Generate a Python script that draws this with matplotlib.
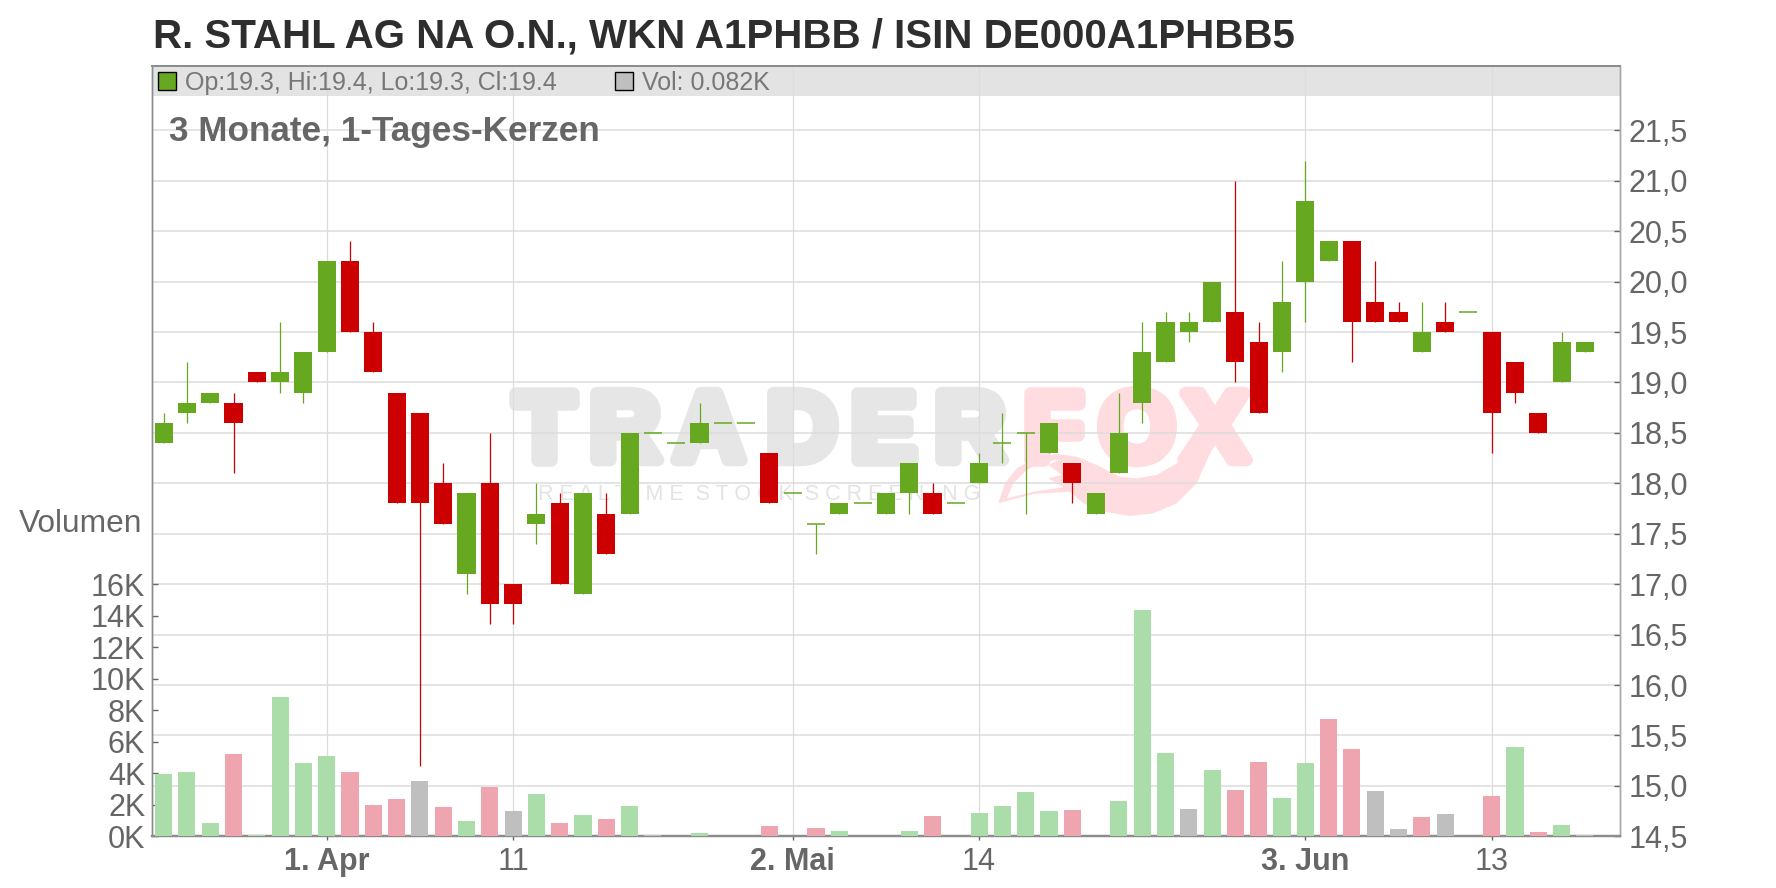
import matplotlib
matplotlib.use("Agg")
import matplotlib.pyplot as plt
import matplotlib.patheffects as pe
from matplotlib.patches import Rectangle, PathPatch
from matplotlib.path import Path

W, H = 1776, 888
FONT = "Liberation Sans"
plt.rcParams["font.family"] = [FONT, "DejaVu Sans"]

opens = [18.4,18.7,18.8,18.8,19.1,19.0,18.9,19.3,20.2,19.5,18.9,18.7,18.0,17.1,18.0,17.0,17.6,17.8,16.9,17.7,17.7,
         18.5,18.4,18.4,18.6,18.6,18.3,17.9,17.6,17.7,17.8,17.7,17.9,17.9,17.8,18.0,18.4,18.5,18.3,18.2,17.7,18.1,18.8,
         19.2,19.5,19.6,19.7,19.4,19.3,20.0,20.2,20.4,19.8,19.7,19.3,19.6,19.7,19.5,19.2,18.7,19.0,19.3]
closes = [18.6,18.8,18.9,18.6,19.0,19.1,19.3,20.2,19.5,19.1,17.8,17.8,17.6,17.9,16.8,16.8,17.7,17.0,17.9,17.3,18.5,
          18.5,18.4,18.6,18.6,18.6,17.8,17.9,17.6,17.8,17.8,17.9,18.2,17.7,17.8,18.2,18.4,18.5,18.6,18.0,17.9,18.5,19.3,
          19.6,19.6,20.0,19.2,18.7,19.8,20.8,20.4,19.6,19.6,19.6,19.5,19.5,19.7,18.7,18.9,18.5,19.4,19.4]
highs = [18.7,19.2,18.9,18.9,19.1,19.6,19.3,20.2,20.4,19.6,18.9,18.7,18.2,17.9,18.5,17.0,18.0,17.9,17.9,17.9,18.5,
         18.5,18.4,18.8,18.6,18.6,18.3,17.9,17.6,17.8,17.8,17.9,18.2,18.0,17.8,18.3,18.7,18.5,18.6,18.2,17.9,18.9,19.6,
         19.7,19.7,20.0,21.0,19.6,20.2,21.2,20.4,20.4,20.2,19.8,19.8,19.8,19.7,19.5,19.2,18.7,19.5,19.4]
lows = [18.4,18.6,18.8,18.1,19.0,18.9,18.8,19.3,19.5,19.1,17.8,15.2,17.6,16.9,16.6,16.6,17.4,17.0,16.9,17.3,17.7,
        18.5,18.4,18.4,18.6,18.6,17.8,17.9,17.3,17.7,17.8,17.7,17.7,17.7,17.8,18.0,18.2,17.7,18.3,17.8,17.7,18.1,18.6,
        19.2,19.4,19.6,19.0,18.7,19.1,19.6,20.2,19.2,19.6,19.6,19.3,19.5,19.7,18.3,18.8,18.5,19.0,19.3]
volumes_k = [3.96,4.08,0.85,5.23,0.08,8.85,4.66,5.10,4.08,1.99,2.37,3.51,1.86,0.97,3.13,1.61,2.69,0.85,1.35,1.10,1.93,
             0.08,0,0.21,0,0,0.66,0,0.53,0.34,0,0,0.34,1.29,0,1.48,1.93,2.81,1.61,1.67,0,2.24,14.37,
             5.29,1.74,4.21,2.94,4.72,2.43,4.66,7.45,5.54,2.88,0.47,1.23,1.42,0,2.56,5.67,0.28,0.72,0.08]
volume_kinds = list("gggrggggrrrxrgrxgrgrg" "xggggrgrgggg" "rgggggrgggg" "xgrrgg" "rrxxrxgrgrgx")
price_ticks = [14.5,15.0,15.5,16.0,16.5,17.0,17.5,18.0,18.5,19.0,19.5,20.0,20.5,21.0,21.5]
price_labels = ["14,5","15,0","15,5","16,0","16,5","17,0","17,5","18,0","18,5","19,0","19,5","20,0","20,5","21,0","21,5"]
volume_ticks = [0,2,4,6,8,10,12,14,16]
volume_labels = ["0K","2K","4K","6K","8K","10K","12K","14K","16K"]
date_positions = [7,15,27,35,49,57]
date_labels = ["1. Apr","11","2. Mai","14","3. Jun","13"]
date_bold = [True,False,True,False,True,False]

GREEN, RED = "#66A820", "#CC0000"
VOL = {"g": "#ABDDAA", "r": "#EFA5AF", "x": "#BFBFBF"}
TXT = "#666666"
GRID = "#DCDCDC"
EDGE = "#8C8C8C"
PINK = "#FFDCE0"
WM_GRAY = "#E6E6E6"

def fx(x): return x / W
def fy(y): return 1 - y / H

L, R, T, B = 152.3, 1620.2, 65.7, 836.3
STEP, X0 = 23.3, 163.6
PY = 100.86   # px per price unit
VY = 15.75    # px per 1K

fig = plt.figure(figsize=(W / 100, H / 100), dpi=100, facecolor="white")
ax = fig.add_axes([fx(L), fy(B), (R - L) / W, (B - T) / H])
ax2 = ax.twinx()
ax.set_xlim((L - X0) / STEP, (R - X0) / STEP)
ax.set_ylim(14.5, 14.5 + (B - T) / PY)
ax2.set_ylim(0, (B - T) / VY)
ax2.patch.set_visible(False)

# header band
ax.axhspan(14.5 + (B - 96) / PY, 14.5 + (B - T) / PY, color="#E3E3E3", lw=0, zorder=0.2)

# grid
for v in price_ticks:
    ax.axhline(v, color=GRID, lw=1.1, zorder=1)
for v in date_positions:
    ax.axvline(v, color=GRID, lw=0.9, zorder=1)

# watermark
tf = fig.transFigure
for ch, cx, col in zip("TRADERFOX", [544, 625, 709, 802, 883, 970, 1053, 1137, 1215], [WM_GRAY] * 6 + [PINK] * 3):
    ax.text(fx(cx), fy(460), ch, transform=tf, ha="center", va="baseline", fontsize=70, fontweight="bold",
            color=col, zorder=0.5, family=FONT,
            path_effects=[pe.withStroke(linewidth=9, foreground=col)])
ax.text(fx(759), fy(494), "R E A L T I M E  S T O C K  S C R E E N I N G", transform=tf, ha="center", va="center",
        fontsize=15.5, color="#E3E3E3", zorder=0.5, family=FONT)
outer = [(55,370),(75,310),(110,265),(170,232),(230,222),(290,230),(350,255),(420,290),(470,295),(530,285),(590,250),
         (640,200),(690,130),(740,60),(810,18),(765,60),(725,140),(690,220),(650,310),(590,370),(520,400),(450,408),
         (370,395),(310,370),(270,335),(160,342)]
hole = [(80,355),(100,310),(140,270),(190,245),(235,240),(205,255),(245,285),(205,295),(250,322),(160,335)]
def to_fig(p): return (fx(980 + p[0] / 3), fy(380 + p[1] / 3))
verts = [to_fig(p) for p in outer] + [to_fig(outer[0])] + [to_fig(p) for p in hole[::-1]] + [to_fig(hole[-1])]
codes = [Path.MOVETO] + [Path.LINETO] * (len(outer) - 1) + [Path.CLOSEPOLY] + \
        [Path.MOVETO] + [Path.LINETO] * (len(hole) - 1) + [Path.CLOSEPOLY]
ax.add_patch(PathPatch(Path(verts, codes), transform=tf, facecolor=PINK, edgecolor="none", zorder=0.5))

# candles
for i, (o, c, h, l) in enumerate(zip(opens, closes, highs, lows)):
    col = GREEN if c >= o else RED
    if h > l:
        ax.vlines(i, l, h, color=col, lw=0.9, zorder=3)
    if abs(c - o) < 1e-9:
        ax.hlines(o, i - 0.39, i + 0.39, color=col, lw=1.1, zorder=3)
    else:
        ax.bar(i, abs(c - o), bottom=min(o, c), width=0.78, color=col, lw=0, zorder=3)

# volume
ax2.bar(range(len(volumes_k)), volumes_k, width=0.73, color=[VOL[k] for k in volume_kinds], lw=0, zorder=3)

# axes
ax.yaxis.tick_right()
ax2.yaxis.tick_left()
ax.set_yticks(price_ticks, price_labels)
ax2.set_yticks(volume_ticks, volume_labels)
ax.tick_params(axis="y", direction="in", length=4, width=1, color="#666666", pad=6,
               labelsize=22, labelcolor=TXT, labelright=True, labelleft=False)
ax2.tick_params(axis="y", direction="in", length=4, width=1, color="#666666", pad=5,
                labelsize=22, labelcolor=TXT, labelleft=True, labelright=False)
ax.set_xticks(date_positions, date_labels)
ax.tick_params(axis="x", direction="out", length=3, width=1, color="#666666", pad=5, labelsize=22, labelcolor=TXT)
for lab, bold in zip(ax.get_xticklabels(), date_bold):
    lab.set_fontweight("bold" if bold else "normal")
for a in (ax, ax2):
    for s in a.spines.values():
        s.set_color(EDGE)
        s.set_linewidth(1)
    a.spines["bottom"].set_linewidth(1.6)
    a.spines["top"].set_linewidth(1.4)
    a.spines["right"].set_color("#A8A8A8")

# texts
fig.text(fx(153), fy(47.5), "R. STAHL AG NA O.N., WKN A1PHBB / ISIN DE000A1PHBB5", fontsize=29, fontweight="bold",
         color="#2E2E2E", ha="left", va="baseline")
fig.text(fx(169), fy(140.5), "3 Monate, 1-Tages-Kerzen", fontsize=25.3, fontweight="bold", color=TXT, ha="left", va="baseline")
fig.text(fx(185), fy(90), "Op:19.3, Hi:19.4, Lo:19.3, Cl:19.4", fontsize=18, color="#777777", ha="left", va="baseline")
fig.text(fx(642), fy(90), "Vol: 0.082K", fontsize=18, color="#777777", ha="left", va="baseline")
fig.text(fx(19), fy(532), "Volumen", fontsize=22.8, color=TXT, ha="left", va="baseline")
fig.add_artist(Rectangle((fx(157.5), fy(90.5)), 18.5 / W, 18 / H, transform=tf, facecolor=GREEN, edgecolor="black", lw=1))
fig.add_artist(Rectangle((fx(614.5), fy(90.5)), 18.5 / W, 18 / H, transform=tf, facecolor="#BFBFBF", edgecolor="black", lw=1))

fig.savefig("out.png", dpi=100)
